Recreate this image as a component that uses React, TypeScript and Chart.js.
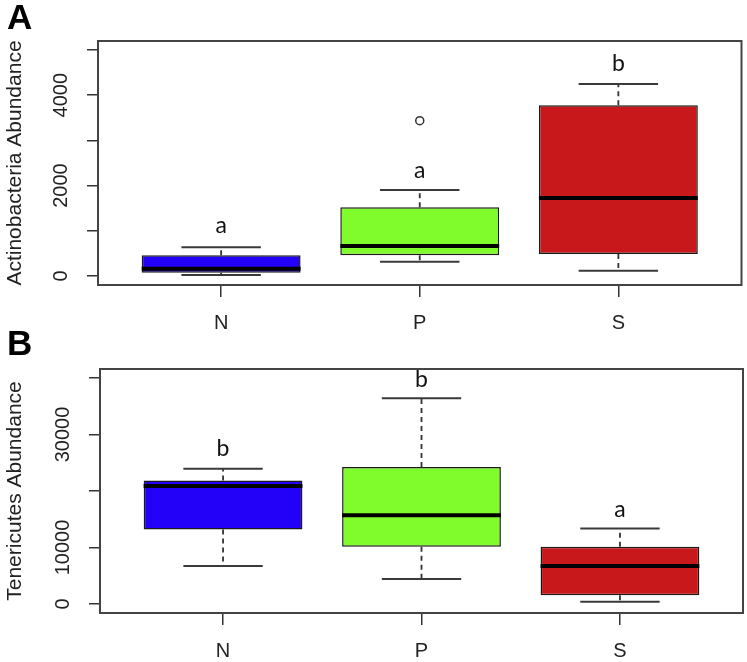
import React, { useEffect, useRef } from 'react';
import { Chart, registerables } from 'chart.js';

Chart.register(...registerables);

const categories = ['N', 'P', 'S'];
const boxColors = ['#2300F8', '#80FB2B', '#C8181B'];

// Panel A: Actinobacteria
const actLow = [22, 316, 117];
const actQ1 = [73, 458, 487];
const actMedian = [160, 664, 1726];
const actQ3 = [458, 1520, 3776];
const actHigh = [635, 1903, 4248];
const actOutlierCat = ['P'];
const actOutlierVal = [3436];
const actLetters = ['a', 'a', 'b'];
const actLetterY = [944, 2161, 4542];
const actTicks = [0, 1000, 2000, 3000, 4000, 5000];
const actTickLabels = ['0', '', '2000', '', '4000', ''];

// Panel B: Tenericutes
const tenLow = [6700, 4410, 410];
const tenQ1 = [13180, 10110, 1530];
const tenMedian = [20880, 15700, 6700];
const tenQ3 = [21880, 24230, 10110];
const tenHigh = [23945, 36400, 13360];
const tenOutlierCat: string[] = [];
const tenOutlierVal: number[] = [];
const tenLetters = ['b', 'b', 'a'];
const tenLetterY = [26118, 38350, 15410];
const tenTicks = [0, 10000, 20000, 30000, 40000];
const tenTickLabels = ['0', '10000', '', '30000', ''];

const FONT = '"Liberation Sans", Arial, sans-serif';

const boxExtras = {
  id: 'boxExtras',
  beforeDatasetsDraw(chart: any) {
    const o = chart.options.plugins.boxExtras;
    const ys = chart.scales.y;
    const meta = chart.getDatasetMeta(0);
    const ctx = chart.ctx;
    ctx.save();
    meta.data.forEach((el: any, i: number) => {
      const { x, width } = el.getProps(['x', 'width'], true);
      const yLo = ys.getPixelForValue(o.low[i]);
      const yQ1 = ys.getPixelForValue(o.q1[i]);
      const yQ3 = ys.getPixelForValue(o.q3[i]);
      const yHi = ys.getPixelForValue(o.high[i]);
      ctx.strokeStyle = '#333';
      ctx.lineWidth = 1.8;
      ctx.setLineDash([5, 4]);
      ctx.beginPath();
      ctx.moveTo(x, yQ3);
      ctx.lineTo(x, yHi);
      ctx.moveTo(x, yQ1);
      ctx.lineTo(x, yLo);
      ctx.stroke();
      ctx.setLineDash([]);
      ctx.lineWidth = 2;
      ctx.strokeStyle = '#3a3a3a';
      const hw = width / 4;
      ctx.beginPath();
      ctx.moveTo(x - hw, yHi);
      ctx.lineTo(x + hw, yHi);
      ctx.moveTo(x - hw, yLo);
      ctx.lineTo(x + hw, yLo);
      ctx.stroke();
    });
    ctx.restore();
  },
  afterDatasetsDraw(chart: any) {
    const o = chart.options.plugins.boxExtras;
    const ys = chart.scales.y;
    const xs = chart.scales.x;
    const area = chart.chartArea;
    const meta = chart.getDatasetMeta(0);
    const ctx = chart.ctx;
    ctx.save();
    // medians
    meta.data.forEach((el: any, i: number) => {
      const { x, width } = el.getProps(['x', 'width'], true);
      const yM = ys.getPixelForValue(o.median[i]);
      ctx.strokeStyle = '#000';
      ctx.lineWidth = 4;
      ctx.beginPath();
      ctx.moveTo(x - width / 2, yM);
      ctx.lineTo(x + width / 2, yM);
      ctx.stroke();
    });
    // letters
    ctx.fillStyle = '#111';
    ctx.font = '23px Lato, "Open Sans", sans-serif';
    ctx.textAlign = 'center';
    ctx.textBaseline = 'alphabetic';
    o.letters.forEach((t: string, i: number) => {
      ctx.fillText(t, xs.getPixelForValue(i + 1), ys.getPixelForValue(o.letterY[i]));
    });
    // frame
    ctx.strokeStyle = '#444';
    ctx.lineWidth = 2;
    ctx.strokeRect(area.left, area.top, area.right - area.left, area.bottom - area.top);
    // y tick labels (rotated like R)
    ctx.fillStyle = '#222';
    ctx.font = '20px ' + FONT;
    ctx.textAlign = 'center';
    ctx.textBaseline = 'alphabetic';
    o.tickValues.forEach((v: number, i: number) => {
      const lab = o.tickLabels[i];
      if (!lab) return;
      const y = ys.getPixelForValue(v);
      ctx.save();
      ctx.translate(area.left - 31, y);
      ctx.rotate(-Math.PI / 2);
      ctx.fillText(lab, 0, 0);
      ctx.restore();
    });
    // panel label
    ctx.fillStyle = '#000';
    ctx.font = 'bold 35px ' + FONT;
    ctx.textAlign = 'left';
    ctx.fillText(o.panelLabel, 7, o.panelLabelY);
    ctx.restore();
  },
};

type PanelProps = {
  low: number[]; q1: number[]; median: number[]; q3: number[]; high: number[];
  outCat: string[]; outVal: number[]; letters: string[]; letterY: number[];
  tickValues: number[]; tickLabels: string[];
  yMin: number; yMax: number; title: string;
  panelLabel: string; panelLabelY: number;
  height: number; padTop: number; padRight: number; yWidth: number; xHeight: number;
};

function Panel(p: PanelProps) {
  const ref = useRef<HTMLCanvasElement>(null);
  useEffect(() => {
    if (!ref.current) return;
    const chart = new Chart(ref.current, {
      type: 'bar',
      data: {
        datasets: [
          {
            type: 'bar',
            data: categories.map((c, i) => ({ x: i + 1, y: [p.q1[i], p.q3[i]] })) as any,
            backgroundColor: boxColors,
            borderColor: '#1a1a1a',
            borderWidth: 1.5,
            borderSkipped: false,
            categoryPercentage: 1,
            barPercentage: 0.8,
          } as any,
          {
            type: 'scatter',
            data: p.outCat.map((c, i) => ({ x: categories.indexOf(c) + 1, y: p.outVal[i] })),
            pointRadius: 4,
            pointBorderWidth: 1.5,
            borderColor: '#333',
            backgroundColor: '#fff',
          } as any,
        ],
      },
      options: {
        responsive: false,
        animation: false,
        devicePixelRatio: 1,
        layout: { padding: { left: 0, top: p.padTop, right: p.padRight, bottom: 0 } },
        scales: {
          x: {
            type: 'linear',
            min: 0.38,
            max: 3.62,
            offset: false,
            afterBuildTicks: (s: any) => { s.ticks = categories.map((c, i) => ({ value: i + 1 })); },
            afterFit: (s: any) => { s.height = p.xHeight; },
            ticks: {
              callback: (v: any) => categories[Math.round(Number(v)) - 1] ?? '',
              font: { family: FONT, size: 20, lineHeight: 1.2 },
              color: '#222',
              padding: 14,
              autoSkip: false,
              maxRotation: 0,
              minRotation: 0,
            },
            grid: { offset: false, drawOnChartArea: false, drawTicks: true, tickLength: 12, color: '#333', lineWidth: 1.5 },
            border: { display: false },
          },
          y: {
            type: 'linear',
            min: p.yMin,
            max: p.yMax,
            afterBuildTicks: (s: any) => { s.ticks = p.tickValues.map((v) => ({ value: v })); },
            afterFit: (s: any) => { s.width = p.yWidth; },
            ticks: { display: false },
            grid: { drawOnChartArea: false, drawTicks: true, tickLength: 11, color: '#333', lineWidth: 1.5 },
            border: { display: false },
            title: {
              display: true,
              text: p.title,
              color: '#222',
              font: { family: FONT, size: 21, lineHeight: 1.2 },
              padding: { top: 3, bottom: 0 },
            },
          },
        },
        plugins: {
          legend: { display: false },
          tooltip: { enabled: false },
          boxExtras: {
            low: p.low, q1: p.q1, median: p.median, q3: p.q3, high: p.high,
            letters: p.letters, letterY: p.letterY,
            tickValues: p.tickValues, tickLabels: p.tickLabels,
            panelLabel: p.panelLabel, panelLabelY: p.panelLabelY,
          },
        } as any,
      },
      plugins: [boxExtras],
    });
    return () => chart.destroy();
  }, []);
  return <canvas ref={ref} width={747} height={p.height} style={{ display: 'block' }} />;
}

export default function App() {
  return (
    <div style={{ position: 'absolute', left: 0, top: 0, width: 747, height: 662, background: '#fff' }}>
      <div style={{ position: 'absolute', left: 0, top: 0 }}>
        <Panel
          low={actLow} q1={actQ1} median={actMedian} q3={actQ3} high={actHigh}
          outCat={actOutlierCat} outVal={actOutlierVal}
          letters={actLetters} letterY={actLetterY}
          tickValues={actTicks} tickLabels={actTickLabels}
          yMin={-200} yMax={5200} title="Actinobacteria Abundance"
          panelLabel="A" panelLabelY={29}
          height={340} padTop={41} padRight={5} yWidth={98} xHeight={55}
        />
      </div>
      <div style={{ position: 'absolute', left: 0, top: 320 }}>
        <Panel
          low={tenLow} q1={tenQ1} median={tenMedian} q3={tenQ3} high={tenHigh}
          outCat={tenOutlierCat} outVal={tenOutlierVal}
          letters={tenLetters} letterY={tenLetterY}
          tickValues={tenTicks} tickLabels={tenTickLabels}
          yMin={-1600} yMax={41600} title="Tenericutes Abundance"
          panelLabel="B" panelLabelY={35}
          height={342} padTop={49} padRight={4} yWidth={100} xHeight={49}
        />
      </div>
    </div>
  );
}
